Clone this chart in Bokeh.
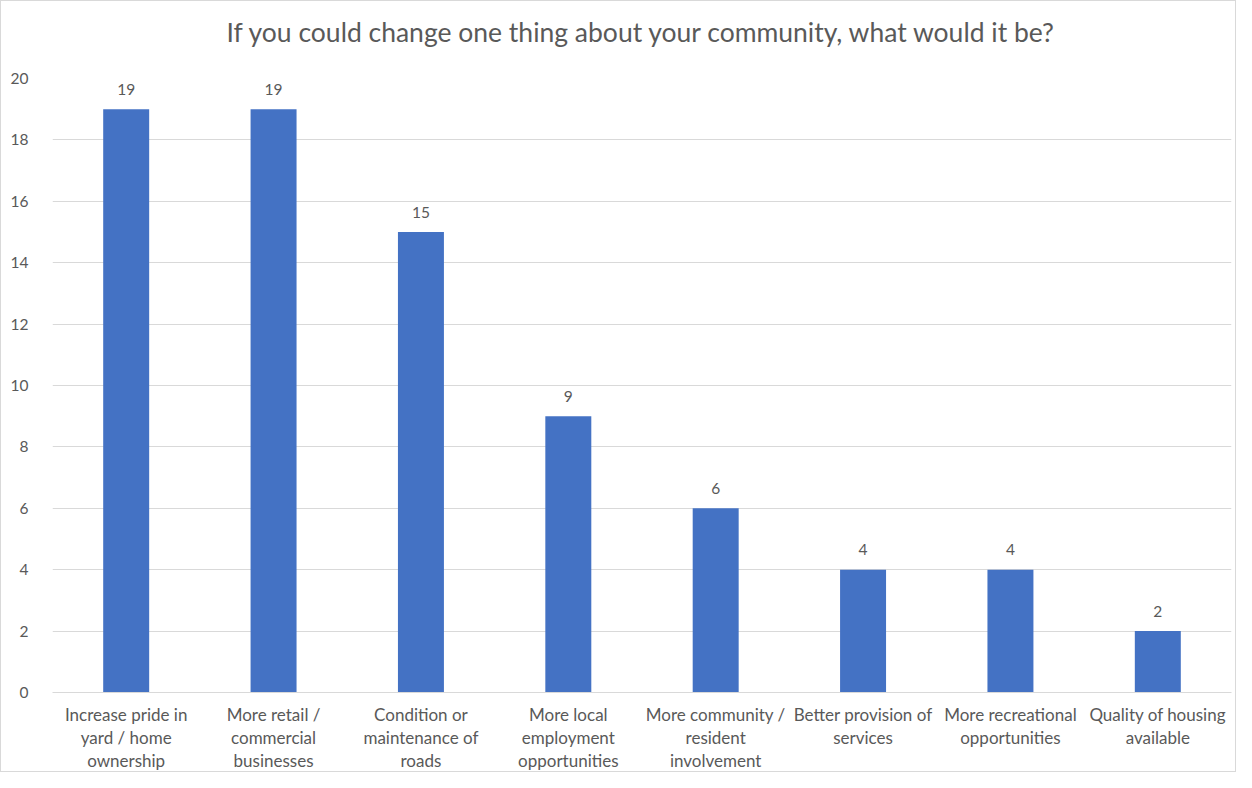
from bokeh.plotting import figure
from bokeh.models import ColumnDataSource, SingleIntervalTicker, LabelSet, Title
from bokeh.embed import file_html
from bokeh.resources import INLINE
from bokeh.core.properties import value

categories = [
    "Increase pride in\nyard / home\nownership",
    "More retail /\ncommercial\nbusinesses",
    "Condition or\nmaintenance of\nroads",
    "More local\nemployment\nopportunities",
    "More community /\nresident\ninvolvement",
    "Better provision of\nservices",
    "More recreational\nopportunities",
    "Quality of housing\navailable",
]
counts = [19, 19, 15, 9, 6, 4, 4, 2]
title_text = "If you could change one thing about your community, what would it be?"

FONT = "Lato"
TXT = "#595959"

src = ColumnDataSource(dict(cat=categories, val=counts, lab=[str(v) for v in counts]))

p = figure(
    x_range=categories, y_range=(0, 20),
    width=1236, height=772,
    output_backend="svg", toolbar_location=None,
    min_border_left=51, min_border_right=6, min_border_top=77, min_border_bottom=78,
)
p.styles = {"border": "1px solid #d9d9d9"}
p.outline_line_color = None
p.background_fill_color = "white"
p.border_fill_color = "white"
p.title = None

# spacer (closest to the frame), then the real title above it
spacer = Title(text=" ", text_font=FONT, text_font_size="20px", standoff=5,
               text_color="white")
p.add_layout(spacer, "above")
main_title = Title(text=title_text, align="center", offset=-14, text_font=FONT,
                   text_font_size="26.5px", text_font_style="normal",
                   text_color=TXT, standoff=0)
p.add_layout(main_title, "above")

p.vbar(x="cat", top="val", width=0.312, source=src, color="#4472C4", line_color=None)

labels = LabelSet(x="cat", y="val", text="lab", source=src, y_offset=20,
                  text_align="center", text_baseline="middle",
                  text_font=value(FONT), text_font_size="15.5px", text_color=TXT)
p.add_layout(labels)

p.x_range.range_padding = 0
p.yaxis.ticker = SingleIntervalTicker(interval=2)
p.yaxis.axis_line_color = None
p.yaxis.major_tick_line_color = None
p.yaxis.minor_tick_line_color = None
p.yaxis.major_label_text_font = FONT
p.yaxis.major_label_text_font_size = "15.5px"
p.yaxis.major_label_text_color = TXT
p.yaxis.major_label_standoff = 18

p.xaxis.axis_line_color = "#d9d9d9"
p.xaxis.major_tick_line_color = None
p.xaxis.minor_tick_line_color = None
p.xaxis.major_label_text_font = FONT
p.xaxis.major_label_text_font_size = "17px"
p.xaxis.major_label_text_color = TXT
p.xaxis.major_label_standoff = 5
p.xaxis.major_label_text_line_height = 1.1

p.xgrid.grid_line_color = None
p.ygrid.grid_line_color = "#d9d9d9"
p.ygrid.grid_line_width = 1

open("out.html", "w").write(file_html(p, INLINE))
